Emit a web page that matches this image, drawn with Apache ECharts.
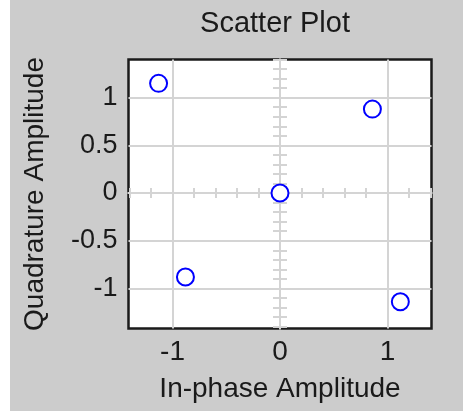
<!DOCTYPE html>
<html>
<head>
<meta charset="UTF-8" />
<script type="text/javascript" src="https://cdn.jsdelivr.net/npm/echarts@6/dist/echarts.min.js"></script>
<title>Scatter Plot</title>
<style>
	body { margin: 0; background: #fff; }
	#main { position: absolute; left: 10px; top: 0; width: 453px; height: 411px; }
</style>
</head>
<body>
	<div id="main"></div>
<script type="text/javascript">
	// constellation points
	var inPhase = [-1.13, 0.86, 0, -0.88, 1.12]
	var quadrature = [1.15, 0.88, 0, -0.88, -1.14]

	// tick labels
	var xTickLabels = [-1, 0, 1]
	var yTickLabels = [-1, -0.5, 0, 0.5, 1]

	// minor ticks drawn along the zero lines
	var xMinorTicks = [-1.4, -1.2, -1, -0.8, -0.6, -0.4, -0.2, 0.2, 0.4, 0.6, 0.8, 1, 1.2, 1.4]
	var yMinorTicks = [-1.4, -1.3, -1.2, -1.1, -1, -0.9, -0.8, -0.7, -0.6, -0.5, -0.4, -0.3, -0.2, -0.1,
		0.1, 0.2, 0.3, 0.4, 0.5, 0.6, 0.7, 0.8, 0.9, 1, 1.1, 1.2, 1.3, 1.4]

	var xMin = -1.41, xMax = 1.41
	var yMin = -1.42, yMax = 1.4

	var font = "'Liberation Sans', Arial, sans-serif"
	var gridGrey = '#d4d4d4'

	var points = []
	for (var i = 0; i < inPhase.length; i++) {
		points.push([inPhase[i], quadrature[i]])
	}

	function minorAxis(dim, position, ticks, len) {
		return {
			type : 'value',
			position : position,
			min : dim == 'x' ? xMin : yMin,
			max : dim == 'x' ? xMax : yMax,
			axisLine : {
				show : true,
				onZero : true,
				onZeroAxisIndex : 0,
				lineStyle : { color : gridGrey, width : 2 }
			},
			axisTick : {
				show : true,
				length : len,
				customValues : ticks,
				lineStyle : { color : gridGrey, width : 2 }
			},
			axisLabel : { show : false },
			splitLine : { show : false }
		}
	}

	var option = {
		backgroundColor : '#cccccc',
		animation : false,
		title : {
			text : 'Scatter Plot',
			left : 265,
			top : 9,
			padding : 0,
			textAlign : 'center',
			textStyle : { fontFamily : font, fontSize : 29, fontWeight : 'normal', color : '#1a1a1a' }
		},
		grid : {
			left : 118.5,
			right : 31.5,
			top : 59.5,
			bottom : 82.5,
			show : true,
			backgroundColor : '#ffffff',
			borderColor : '#1a1a1a',
			borderWidth : 2.5
		},
		xAxis : [ {
			type : 'value',
			min : xMin,
			max : xMax,
			splitNumber : 2,
			name : 'In-phase Amplitude',
			nameLocation : 'middle',
			nameGap : 47,
			nameTextStyle : { fontFamily : font, fontSize : 28, color : '#1a1a1a' },
			axisLine : { show : false, onZero : false },
			axisTick : { show : false },
			axisLabel : {
				customValues : xTickLabels,
				margin : 10,
				fontFamily : font,
				fontSize : 28,
				color : '#1a1a1a'
			},
			splitLine : {
				show : true,
				showMinLine : false,
				showMaxLine : false,
				lineStyle : { color : gridGrey, width : 2 }
			}
		},
			minorAxis('x', 'bottom', xMinorTicks, 5),
			minorAxis('x', 'top', xMinorTicks, 5)
		],
		yAxis : [ {
			type : 'value',
			min : yMin,
			max : yMax,
			splitNumber : 5,
			name : 'Quadrature Amplitude',
			nameLocation : 'middle',
			nameGap : 79,
			nameTextStyle : { fontFamily : font, fontSize : 28, color : '#1a1a1a' },
			axisLine : { show : false, onZero : false },
			axisTick : { show : false },
			axisLabel : {
				customValues : yTickLabels,
				margin : 11,
				fontFamily : font,
				fontSize : 27,
				color : '#1a1a1a'
			},
			splitLine : {
				show : true,
				showMinLine : false,
				showMaxLine : false,
				lineStyle : { color : gridGrey, width : 2 }
			}
		},
			minorAxis('y', 'left', yMinorTicks, 7),
			minorAxis('y', 'right', yMinorTicks, 7)
		],
		series : [ {
			type : 'scatter',
			xAxisIndex : 0,
			yAxisIndex : 0,
			symbol : 'circle',
			symbolSize : 17,
			itemStyle : {
				color : '#ffffff',
				borderColor : '#0000ff',
				borderWidth : 2,
				opacity : 1
			},
			z : 10,
			data : points
		} ]
	}

	var myChart = echarts.init(document.getElementById('main'))
	myChart.setOption(option)
</script>
</body>
</html>
